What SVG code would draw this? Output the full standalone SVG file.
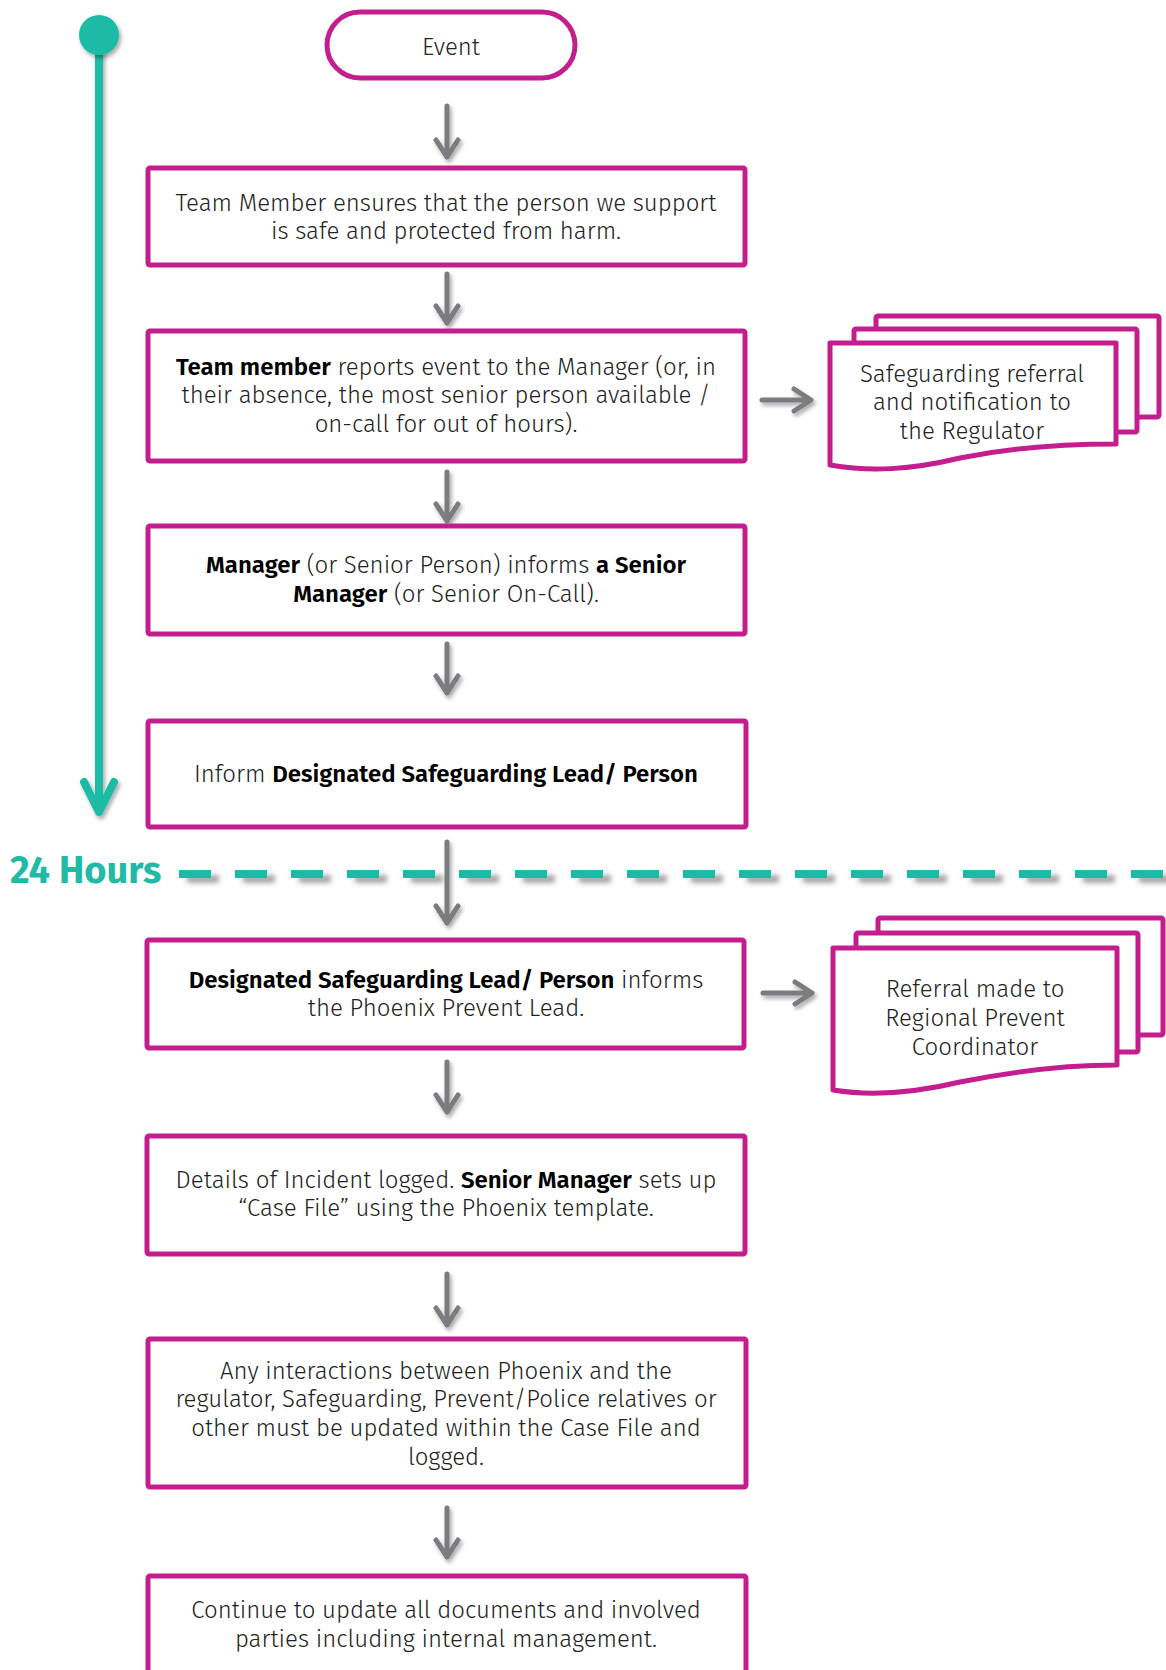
<svg xmlns="http://www.w3.org/2000/svg" width="1166" height="1670" viewBox="0 0 1166 1670">
<defs>
<filter id="sh" x="-30%" y="-30%" width="160%" height="160%">
<feDropShadow dx="2" dy="3" stdDeviation="2" flood-color="#000" flood-opacity="0.35"/>
</filter>
<filter id="dsh" filterUnits="userSpaceOnUse" x="150" y="850" width="1030" height="50">
<feDropShadow dx="8" dy="5" stdDeviation="2.5" flood-color="#000" flood-opacity="0.35"/>
</filter>
</defs>
<style>
.box{fill:#fff;stroke:#C41D8D;stroke-width:5;stroke-linejoin:round}
.t{font-family:"Fira Sans","Open Sans","Noto Sans",sans-serif;font-weight:300;font-size:24px;fill:#222;text-anchor:middle}
.b{font-weight:600;fill:#000}
.arr{fill:none;stroke:#7B7C80;stroke-width:5;stroke-linecap:round;stroke-linejoin:round;filter:url(#sh)}
.tl{fill:none;stroke:#1FBBA6;stroke-width:8;stroke-linecap:round;stroke-linejoin:round}
</style>
<rect width="1166" height="1670" fill="#fff"/>

<g id="timeline">
<path class="tl" d="M99,40 V812 M84,782 L99,812 L114,782" filter="url(#sh)"/>
<circle cx="99" cy="35" r="20" fill="#1FBBA6" filter="url(#sh)"/>
</g>

<g id="hours24">
<text x="10" y="883" font-family="'Fira Sans','Open Sans',sans-serif" font-weight="700" font-size="38" fill="#1FBBA6">24 Hours</text>
<path d="M179,874 H1166" fill="none" stroke="#1FBBA6" stroke-width="8" stroke-dasharray="32 24" filter="url(#dsh)"/>
</g>

<g id="connectors">
<path class="arr" d="M447,106 V157 M436,140 L447,157 L458,140"/>
<path class="arr" d="M447,274 V323 M436,306 L447,323 L458,306"/>
<path class="arr" d="M447,472 V521 M436,504 L447,521 L458,504"/>
<path class="arr" d="M447,644 V693 M436,676 L447,693 L458,676"/>
<path class="arr" d="M447,842 V923 M436,906 L447,923 L458,906"/>
<path class="arr" d="M447,1062 V1112 M436,1095 L447,1112 L458,1095"/>
<path class="arr" d="M447,1274 V1325 M436,1308 L447,1325 L458,1308"/>
<path class="arr" d="M447,1508 V1557 M436,1540 L447,1557 L458,1540"/>
<path class="arr" d="M762,400 H811 M794,389 L811,400 L794,411"/>
<path class="arr" d="M763,993 H812 M795,982 L812,993 L795,1004"/>
</g>

<g id="event">
<rect class="box" x="327" y="12" width="248" height="66" rx="33"/>
<text class="t" x="451" y="55">Event</text>
</g>

<g id="ensure">
<rect class="box" x="148" y="168" width="597" height="97" rx="2"/>
<text class="t" x="446" y="211">Team Member ensures that the person we support</text>
<text class="t" x="446" y="239">is safe and protected from harm.</text>
</g>

<g id="report">
<rect class="box" x="148" y="331" width="597" height="130" rx="2"/>
<text class="t" x="446" y="375"><tspan class="b">Team member</tspan> reports event to the Manager (or, in</text>
<text class="t" x="446" y="403">their absence, the most senior person available /</text>
<text class="t" x="446" y="432">on-call for out of hours).</text>
</g>

<g id="regulator">
<rect class="box" x="876" y="316" width="283" height="101" rx="2"/>
<rect class="box" x="854" y="329" width="283" height="103" rx="2"/>
<path class="box" d="M830,343 H1116 V444 C1060,444 1010,448 960,458 C910,470 870,472 830,465 Z"/>
<text class="t" x="972" y="382">Safeguarding referral</text>
<text class="t" x="972" y="410">and notification to</text>
<text class="t" x="972" y="439">the Regulator</text>
</g>

<g id="manager">
<rect class="box" x="148" y="526" width="597" height="108" rx="2"/>
<text class="t" x="446" y="573"><tspan class="b">Manager</tspan> (or Senior Person) informs <tspan class="b">a Senior</tspan></text>
<text class="t" x="446" y="602"><tspan class="b">Manager</tspan> (or Senior On-Call).</text>
</g>

<g id="inform">
<rect class="box" x="148" y="721" width="598" height="106" rx="2"/>
<text class="t" x="446" y="782">Inform <tspan class="b">Designated Safeguarding Lead/ Person</tspan></text>
</g>

<g id="dsl">
<rect class="box" x="147" y="940" width="597" height="108" rx="2"/>
<text class="t" x="446" y="988"><tspan class="b">Designated Safeguarding Lead/ Person</tspan>  informs</text>
<text class="t" x="446" y="1016">the Phoenix Prevent Lead.</text>
</g>

<g id="prevent">
<rect class="box" x="878" y="918" width="285" height="117" rx="2"/>
<rect class="box" x="856" y="933" width="282" height="119" rx="2"/>
<path class="box" d="M833,948 H1117 V1065 C1060,1065 1010,1072 960,1082 C910,1094 870,1096 833,1090 Z"/>
<text class="t" x="975" y="997">Referral made to</text>
<text class="t" x="975" y="1026">Regional Prevent</text>
<text class="t" x="975" y="1055">Coordinator</text>
</g>

<g id="casefile">
<rect class="box" x="147" y="1136" width="598" height="118" rx="2"/>
<text class="t" x="446" y="1188">Details of Incident logged. <tspan class="b">Senior Manager</tspan> sets up</text>
<text class="t" x="446" y="1216">“Case File” using the Phoenix template.</text>
</g>

<g id="interactions">
<rect class="box" x="148" y="1339" width="598" height="148" rx="2"/>
<text class="t" x="446" y="1379">Any interactions between Phoenix and the</text>
<text class="t" x="446" y="1407">regulator, Safeguarding, Prevent/Police relatives or</text>
<text class="t" x="446" y="1436">other must be updated within the Case File and</text>
<text class="t" x="446" y="1465">logged.</text>
</g>

<g id="continue">
<rect class="box" x="148" y="1576" width="598" height="120" rx="2"/>
<text class="t" x="446" y="1618">Continue to update all documents and involved</text>
<text class="t" x="446" y="1647">parties including internal management.</text>
</g>
</svg>
